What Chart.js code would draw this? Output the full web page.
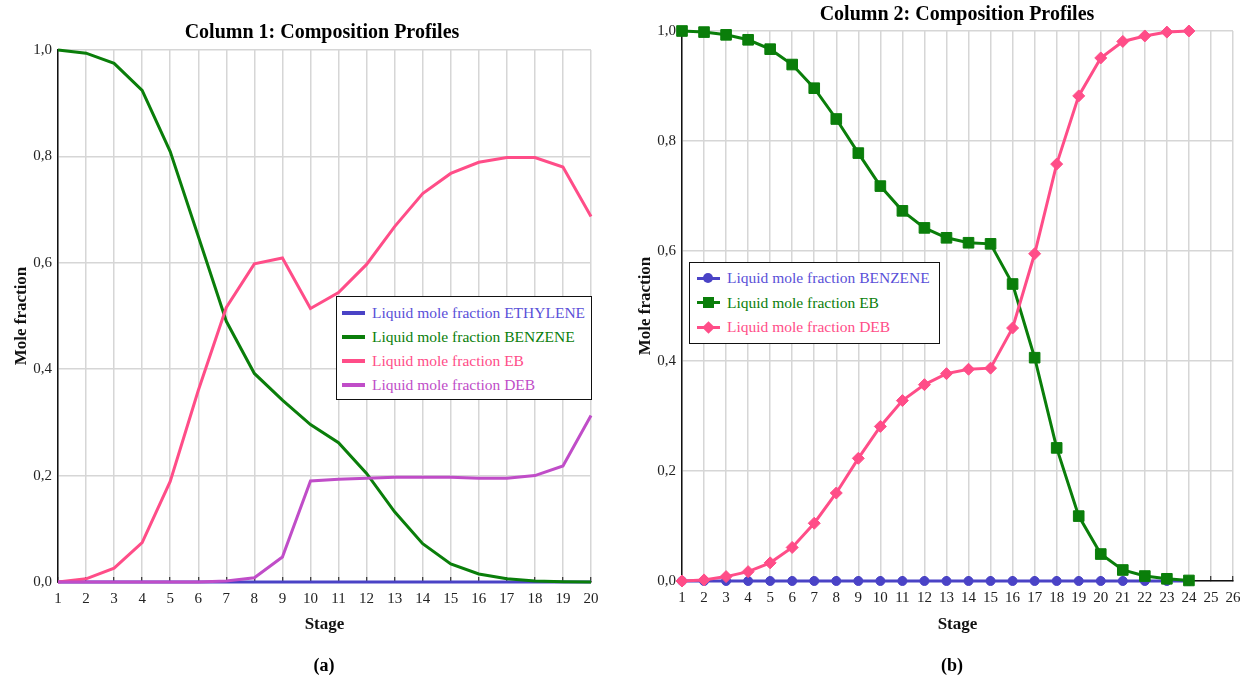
<!DOCTYPE html>
<html>
<head>
<meta charset="utf-8">
<script src="https://cdn.jsdelivr.net/npm/chart.js@4.4.0/dist/chart.umd.min.js"></script>
<style>
  body { margin: 0; background: #fff; width: 1254px; height: 683px; overflow: hidden; position: relative; font-family: 'Liberation Serif', serif; }
  canvas { position: absolute; top: 0; }
  .title { position: absolute; font-weight: bold; font-size: 20px; line-height: 20px; color: #000; white-space: nowrap; transform: translateX(-50%); }
  .caption { position: absolute; font-weight: bold; font-size: 18px; line-height: 18px; color: #000; transform: translateX(-50%); }
  .legend { position: absolute; background: #fff; border: 1.5px solid #111; box-sizing: border-box; }
  .row { position: absolute; font-size: 15.5px; line-height: 18px; white-space: nowrap; }
  .swatch { position: absolute; height: 4px; }
  .mk { position: absolute; }
</style>
</head>
<body>
<canvas id="chart1" width="620" height="683" style="left:0"></canvas>
<canvas id="chart2" width="630" height="683" style="left:624px"></canvas>

<div class="title" style="left:322px; top:21px">Column 1: Composition Profiles</div>
<div class="title" style="left:957px; top:3px">Column 2: Composition Profiles</div>
<div class="caption" style="left:324px; top:656px">(a)</div>
<div class="caption" style="left:952px; top:656px">(b)</div>

<div id="legend1" class="legend" style="left:336px; top:296px; width:256px; height:104px"></div>
<div id="legend2" class="legend" style="left:689px; top:262px; width:251px; height:82px"></div>

<script>
// column 1 data
const stages1 = ['1','2','3','4','5','6','7','8','9','10','11','12','13','14','15','16','17','18','19','20'];
const ethylene1 = [0,0,0,0,0,0,0,0,0,0,0,0,0,0,0,0,0,0,0,0];
const benzene1 = [1.0,0.994,0.975,0.924,0.809,0.65,0.49,0.392,0.342,0.296,0.262,0.204,0.132,0.072,0.034,0.015,0.006,0.002,0.0005,0];
const eb1 = [0,0.006,0.026,0.074,0.189,0.36,0.516,0.598,0.609,0.514,0.544,0.597,0.668,0.73,0.768,0.789,0.798,0.798,0.78,0.687];
const deb1 = [0,0,0,0,0,0,0.002,0.008,0.047,0.19,0.193,0.195,0.197,0.197,0.197,0.195,0.195,0.2,0.218,0.313];

// column 2 data
const stages2 = ['1','2','3','4','5','6','7','8','9','10','11','12','13','14','15','16','17','18','19','20','21','22','23','24','25','26'];
const benzene2 = [0,0,0,0,0,0,0,0,0,0,0,0,0,0,0,0,0,0,0,0,0,0,0,0];
const eb2 = [1.0,0.998,0.993,0.984,0.967,0.939,0.896,0.84,0.778,0.718,0.673,0.642,0.624,0.615,0.613,0.54,0.406,0.242,0.118,0.049,0.02,0.009,0.004,0.001];
const deb2 = [0,0.002,0.008,0.017,0.033,0.061,0.105,0.16,0.223,0.281,0.328,0.357,0.377,0.385,0.387,0.46,0.595,0.758,0.882,0.951,0.981,0.991,0.998,1.0];

const yTicks = [0, 0.2, 0.4, 0.6, 0.8, 1.0];

const BLUE = '#4a43c6', GREEN = '#0a7e0a', PINK = '#ff4d88', PURPLE = '#c04dc8';
const FONT = "'Liberation Serif', serif";

function makeScales(xHeight, yTitlePad, xTitlePad) {
    return {
        x: {
            ticks: { font: { family: FONT, size: 15 }, color: '#222', padding: 13, autoSkip: false, maxRotation: 0 },
            grid: { color: '#d6d6d6', lineWidth: 1.5, drawTicks: true, tickLength: -5, tickColor: '#111', tickWidth: 1 },
            border: { color: '#111', width: 1.5 },
            title: { display: true, text: 'Stage', font: { family: FONT, size: 17, weight: 'bold' }, color: '#111', padding: { bottom: xTitlePad } },
            afterFit: s => { s.height = xHeight; }
        },
        y: {
            min: 0,
            max: 1,
            afterBuildTicks: s => { s.ticks = yTicks.map(v => ({ value: v })); },
            ticks: { font: { family: FONT, size: 15 }, color: '#222', padding: 6, callback: v => v.toFixed(1).replace('.', ',') },
            grid: { color: '#d6d6d6', lineWidth: 1.5, drawTicks: false },
            border: { color: '#111', width: 1.5 },
            title: { display: true, text: 'Mole fraction', font: { family: FONT, size: 17, weight: 'bold' }, color: '#111', padding: { top: yTitlePad } },
            afterFit: s => { s.width = 58; }
        }
    };
}

const common = {
    responsive: false,
    animation: false,
    devicePixelRatio: 1,
    plugins: { legend: { display: false }, title: { display: false }, tooltip: { enabled: false } }
};

new Chart(document.getElementById('chart1').getContext('2d'), {
    type: 'line',
    data: {
        labels: stages1,
        datasets: [
            { label: 'Liquid mole fraction ETHYLENE', data: ethylene1, borderColor: BLUE, order: 4 },
            { label: 'Liquid mole fraction BENZENE', data: benzene1, borderColor: GREEN, order: 3 },
            { label: 'Liquid mole fraction EB', data: eb1, borderColor: PINK, order: 2 },
            { label: 'Liquid mole fraction DEB', data: deb1, borderColor: PURPLE, order: 1 }
        ].map(d => Object.assign(d, { borderWidth: 3, pointRadius: 0, tension: 0, fill: false, clip: false }))
    },
    options: Object.assign({}, common, {
        layout: { padding: { left: 0, top: 50, right: 29, bottom: 0 } },
        scales: makeScales(101, 11, 48)
    })
});

new Chart(document.getElementById('chart2').getContext('2d'), {
    type: 'line',
    data: {
        labels: stages2,
        datasets: [
            { label: 'Liquid mole fraction BENZENE', data: benzene2, borderColor: BLUE, backgroundColor: BLUE, pointStyle: 'circle', pointRadius: 4.5, order: 3 },
            { label: 'Liquid mole fraction EB', data: eb2, borderColor: GREEN, backgroundColor: GREEN, pointStyle: 'rect', pointRadius: 7.5, order: 2 },
            { label: 'Liquid mole fraction DEB', data: deb2, borderColor: PINK, backgroundColor: PINK, pointStyle: 'rectRot', pointRadius: 6, order: 1 }
        ].map(d => Object.assign(d, { borderWidth: 3, pointBorderWidth: 1, tension: 0, fill: false, clip: false }))
    },
    options: Object.assign({}, common, {
        layout: { padding: { left: 0, top: 31, right: 21, bottom: 0 } },
        scales: makeScales(102, 11, 48)
    })
});

// legends drawn as html boxes inside the plot areas
const legend1 = [
    ['Liquid mole fraction ETHYLENE', BLUE, '#5a50d8'],
    ['Liquid mole fraction BENZENE', GREEN, '#0a7e0a'],
    ['Liquid mole fraction EB', PINK, '#ff4d88'],
    ['Liquid mole fraction DEB', PURPLE, '#c04dc8']
];
const legend2 = [
    ['Liquid mole fraction BENZENE', BLUE, '#5a50d8', 'circle'],
    ['Liquid mole fraction EB', GREEN, '#0a7e0a', 'rect'],
    ['Liquid mole fraction DEB', PINK, '#ff4d88', 'diamond']
];

const box1 = document.getElementById('legend1');
legend1.forEach((item, i) => {
    const cy = 16 + i * 24;
    box1.insertAdjacentHTML('beforeend',
        `<div class="swatch" style="left:5px; top:${cy - 2}px; width:23px; background:${item[1]}"></div>` +
        `<div class="row" style="left:35px; top:${cy - 9}px; color:${item[2]}">${item[0]}</div>`);
});

const box2 = document.getElementById('legend2');
legend2.forEach((item, i) => {
    const cy = 15 + i * 24.5;
    let marker = '';
    if (item[3] === 'circle') {
        marker = `<div class="mk" style="left:13px; top:${cy - 5}px; width:10px; height:10px; border-radius:50%; background:${item[1]}"></div>`;
    } else if (item[3] === 'rect') {
        marker = `<div class="mk" style="left:13px; top:${cy - 5.5}px; width:11px; height:11px; background:${item[1]}"></div>`;
    } else {
        marker = `<div class="mk" style="left:14px; top:${cy - 4.5}px; width:9px; height:9px; background:${item[1]}; transform:rotate(45deg)"></div>`;
    }
    box2.insertAdjacentHTML('beforeend',
        `<div class="swatch" style="left:7px; top:${cy - 1.5}px; width:23px; height:3px; background:${item[1]}"></div>` + marker +
        `<div class="row" style="left:37px; top:${cy - 9}px; color:${item[2]}">${item[0]}</div>`);
});
</script>
</body>
</html>
